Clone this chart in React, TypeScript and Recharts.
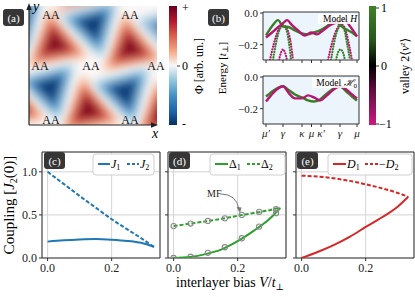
import React from 'react';
import { LineChart, Line, XAxis, YAxis, CartesianGrid, ReferenceArea, ScatterChart, Scatter } from 'recharts';

const FONT = '"Liberation Serif", "DejaVu Serif", serif';

// ---------- (a) moiré potential: extrema of the field ----------
const blobX = [0.203, 0.789, 0.461, -0.125, 1.047, 0.398, 0.5, 0.164, 0.75, -0.086, 1.086];
const blobY = [0.681, 0.647, 0.126, 0.16, 0.092, 1.09, 0.84, 0.311, 0.277, 0.874, 0.807];
const blobSign = [1, 1, 1, 1, 1, 1, -1, -1, -1, -1, -1];
const blobAmp = [1, 1, 1, 1, 1, 0.45, 1, 1, 1, 1, 0.7];
const aaX = [0.172, 0.789, 0.086, 0.484, 0.992, 0.172, 0.789];
const aaY = [0.924, 0.924, 0.496, 0.496, 0.496, 0.042, 0.042];

// ---------- (b) band structure ----------
const kTicks = [0, 17, 36, 45.5, 55, 74, 91];
const kLabels = ['μ′', 'γ', 'κ', 'μ', 'κ′', 'γ', 'μ'];
const eTicks = [0, -0.2];
const eLabels = ['0.0', '−0.2'];

const topGreenK = [0, 6, 12, 17, 23, 29, 36, 42, 48, 54, 61, 69, 74, 80, 86, 91];
const topGreenE = [-0.142, -0.084, -0.045, -0.084, -0.09, -0.11, -0.129, -0.135, -0.123, -0.11, -0.084, -0.045, -0.077, -0.103, -0.123, -0.148];
const topMagK = [0, 6, 12, 17, 21, 26, 32, 39, 45, 51, 57, 64, 71, 78, 84, 91];
const topMagE = [-0.155, -0.123, -0.09, -0.065, -0.045, -0.077, -0.11, -0.142, -0.123, -0.135, -0.11, -0.077, -0.058, -0.039, -0.084, -0.148];
const dotMag1K = [4, 8, 13, 17, 21, 25, 27];
const dotMag1E = [-0.297, -0.19, -0.1, -0.077, -0.1, -0.2, -0.297];
const dotGrn1K = [7, 10, 14, 17, 20, 23, 25];
const dotGrn1E = [-0.297, -0.19, -0.1, -0.084, -0.1, -0.19, -0.297];
const dotSmall1K = [13, 15, 17, 19, 21];
const dotSmall1E = [-0.297, -0.25, -0.23, -0.25, -0.297];
const dotMag2K = [62, 66, 71, 75, 79, 83, 86];
const dotMag2E = [-0.297, -0.19, -0.1, -0.07, -0.1, -0.2, -0.297];
const dotGrn2K = [65, 68, 72, 75, 78, 81, 84];
const dotGrn2E = [-0.297, -0.19, -0.1, -0.08, -0.1, -0.19, -0.297];
const dotSmall2K = [70, 72, 74.5, 77, 79];
const dotSmall2E = [-0.297, -0.25, -0.23, -0.25, -0.297];

const botK = [0, 5, 11, 17, 23, 29, 36, 42, 48, 54, 61, 68, 74, 80, 86, 91];
const botGreenE = [-0.123, -0.097, -0.071, -0.058, -0.084, -0.11, -0.129, -0.148, -0.155, -0.142, -0.103, -0.071, -0.058, -0.09, -0.123, -0.148];
const botMagE = [-0.155, -0.116, -0.077, -0.058, -0.103, -0.135, -0.135, -0.116, -0.129, -0.148, -0.116, -0.077, -0.058, -0.077, -0.11, -0.135];

// ---------- (c)(d)(e) couplings vs interlayer bias ----------
const biasTicks = [0, 0.2];
const couplingTicks = [0, 0.5, 1.0];
const bias = [0, 0.05, 0.1, 0.15, 0.2, 0.25, 0.3, 0.333];
const J1 = [0.19, 0.205, 0.215, 0.22, 0.213, 0.198, 0.168, 0.13];
const J2 = [1.0, 0.86, 0.72, 0.585, 0.45, 0.33, 0.21, 0.125];
const Delta1 = [0, 0.012, 0.045, 0.1, 0.195, 0.315, 0.455, 0.58];
const Delta2 = [0.37, 0.398, 0.425, 0.455, 0.49, 0.522, 0.555, 0.585];
const mfBias = [0, 0.053, 0.107, 0.16, 0.213, 0.267, 0.32];
const mfDelta1 = [0, 0.015, 0.06, 0.125, 0.229, 0.364, 0.52];
const mfDelta2 = [0.37, 0.4, 0.43, 0.46, 0.5, 0.535, 0.566];
const D1 = [0, 0.07, 0.15, 0.245, 0.36, 0.47, 0.595, 0.71];
const minusD2 = [0.955, 0.945, 0.925, 0.895, 0.855, 0.81, 0.755, 0.71];

const GREEN = '#3a7d24';
const MAGENTA = '#b5166f';
const BLUE = '#1f77b4';
const LGREEN = '#2ca02c';
const RED = '#d62728';

const RED_LAYERS: [number, string][] = [[1.0, '#f9cbb3'], [0.84, '#f4a582'], [0.68, '#e07a60'], [0.52, '#c84640'], [0.36, '#a8172c'], [0.2, '#820b22']];
const BLUE_LAYERS: [number, string][] = [[1.0, '#cfe3ef'], [0.84, '#92c5de'], [0.68, '#5fa3cf'], [0.52, '#3079b7'], [0.36, '#14508e'], [0.2, '#083a72']];

const blobs = blobX.map((x, i) => ({ x, y: blobY[i], sign: blobSign[i], amp: blobAmp[i] }));
const rows = (ks: number[], es: number[]) => ks.map((k, i) => ({ k, e: es[i] }));
const biasRows = bias.map((v, i) => ({ v, J1: J1[i], J2: J2[i], d1: Delta1[i], d2: Delta2[i], D1: D1[i], mD2: minusD2[i] }));
const mfRows = mfBias.map((v, i) => ({ v, m1: mfDelta1[i], m2: mfDelta2[i] }));

function renderBlob(props: any) {
  const { cx, cy, payload } = props;
  const s = payload.sign;
  const layers = s > 0 ? RED_LAYERS : BLUE_LAYERS;
  const rot = s > 0 ? -100 : 75;
  const R = 31;
  return (
    <g filter="url(#blobBlur)" opacity={payload.amp}>
      {layers.map(([f, c], i) => {
        const pts = [0, 1, 2]
          .map((j) => {
            const a = ((rot + 120 * j) * Math.PI) / 180;
            return `${cx + R * f * Math.cos(a)},${cy + R * f * Math.sin(a)}`;
          })
          .join(' ');
        return <polygon key={i} points={pts} fill={c} stroke={c} strokeWidth={7} strokeLinejoin="round" />;
      })}
    </g>
  );
}

const tickStyle = { fontFamily: FONT, fontSize: 11, fill: '#222' };
const bandX: [number, number] = [-3, 93];
const bandY: [number, number] = [-0.297, 0.0065];

function BandChart({ top, height, showLabels, children }: any) {
  return (
    <div style={{ position: 'absolute', left: 229, top: top - 6 }}>
      <LineChart width={131} height={height + 6} margin={{ top: 6, right: 1, left: 0, bottom: 0 }}>
        <CartesianGrid fill="#edf5fc" horizontal={false} vertical={false} />
        <XAxis
          dataKey="k"
          type="number"
          domain={bandX}
          allowDataOverflow
          ticks={kTicks}
          interval={0}
          axisLine={false}
          tickSize={3}
          tickLine={{ stroke: '#333' }}
          height={showLabels ? 20 : 5}
          tickFormatter={(v: number) => (showLabels ? kLabels[kTicks.indexOf(v)] : '')}
          tick={{ ...tickStyle, fontStyle: 'italic', fontSize: 11 }}
        />
        <YAxis
          type="number"
          domain={bandY}
          allowDataOverflow
          ticks={eTicks}
          interval={0}
          width={34}
          axisLine={false}
          tickSize={3}
          tickLine={{ stroke: '#333' }}
          tickFormatter={(v: number) => eLabels[eTicks.indexOf(v)]}
          tick={{ ...tickStyle, fontSize: 11 }}
        />
        {children}
        <ReferenceArea x1={bandX[0]} x2={bandX[1]} y1={bandY[0]} y2={bandY[1]} fill="none" stroke="#333" strokeWidth={1} ifOverflow="visible" />
      </LineChart>
    </div>
  );
}

const biasDomain: [number, number] = [-0.0175, 0.351];
const coupDomain: [number, number] = [0, 1.23];

function BiasChart({ left, showY, children }: any) {
  return (
    <div style={{ position: 'absolute', left: left - 30, top: 146 }}>
      <LineChart width={30 + 118 + 1} height={6 + 106 + 20} data={biasRows} margin={{ top: 6, right: 1, left: 0, bottom: 0 }}>
        <CartesianGrid stroke="#d4d4d4" strokeWidth={1} />
        <XAxis
          dataKey="v"
          type="number"
          domain={biasDomain}
          allowDataOverflow
          ticks={biasTicks}
          interval={0}
          axisLine={false}
          tickSize={3}
          tickLine={{ stroke: '#333' }}
          height={20}
          tickFormatter={(v: number) => v.toFixed(1)}
          tick={{ ...tickStyle, fontSize: 12 }}
        />
        <YAxis
          type="number"
          domain={coupDomain}
          allowDataOverflow
          ticks={couplingTicks}
          interval={0}
          width={30}
          axisLine={false}
          tickSize={3}
          tickLine={{ stroke: '#333' }}
          tickFormatter={(v: number) => (showY ? v.toFixed(1) : '')}
          tick={{ ...tickStyle, fontSize: 12 }}
        />
        {children}
        <ReferenceArea x1={biasDomain[0]} x2={biasDomain[1]} y1={coupDomain[0]} y2={coupDomain[1]} fill="none" stroke="#333" strokeWidth={1} ifOverflow="visible" />
      </LineChart>
    </div>
  );
}

const dotted = { strokeDasharray: '0.1 2.6', strokeLinecap: 'round' as const, strokeWidth: 2.2 };

function PanelTag({ x, y, text }: { x: number; y: number; text: string }) {
  return (
    <g>
      <rect x={x} y={y} width={21} height={17} rx={3} fill="#363636" />
      <text x={x + 10.5} y={y + 12.5} fontSize={11} fill="#fff" textAnchor="middle" fontFamily={FONT}>{text}</text>
    </g>
  );
}

export default function App() {
  return (
    <div style={{ position: 'absolute', left: 0, top: 0, width: 415, height: 297, background: '#fff', overflow: 'hidden', fontFamily: FONT }}>
      <svg width={0} height={0} style={{ position: 'absolute' }}>
        <defs>
          <filter id="blobBlur" x="-60%" y="-60%" width="220%" height="220%">
            <feGaussianBlur stdDeviation={5} />
          </filter>
          <linearGradient id="rdbu" x1="0" y1="0" x2="0" y2="1">
            <stop offset="0%" stopColor="#67001f" />
            <stop offset="12.5%" stopColor="#b2182b" />
            <stop offset="25%" stopColor="#d6604d" />
            <stop offset="37.5%" stopColor="#f4a582" />
            <stop offset="50%" stopColor="#f7f7f7" />
            <stop offset="62.5%" stopColor="#92c5de" />
            <stop offset="75%" stopColor="#4393c3" />
            <stop offset="87.5%" stopColor="#2166ac" />
            <stop offset="100%" stopColor="#053061" />
          </linearGradient>
          <linearGradient id="valley" x1="0" y1="0" x2="0" y2="1">
            <stop offset="0%" stopColor="#3d8226" />
            <stop offset="30%" stopColor="#25531a" />
            <stop offset="50%" stopColor="#000000" />
            <stop offset="70%" stopColor="#5e0c3c" />
            <stop offset="100%" stopColor="#cc1a82" />
          </linearGradient>
        </defs>
      </svg>

      {/* (a) heat map */}
      <div style={{ position: 'absolute', left: 29, top: 6, width: 128, height: 119, overflow: 'hidden', background: '#fbf8f7' }}>
        <ScatterChart width={128} height={119} margin={{ top: 0, right: 0, bottom: 0, left: 0 }}>
          <XAxis type="number" dataKey="x" domain={[0, 1]} hide allowDataOverflow />
          <YAxis type="number" dataKey="y" domain={[0, 1]} hide allowDataOverflow />
          <Scatter data={blobs} shape={renderBlob} isAnimationActive={false} />
        </ScatterChart>
      </div>

      {/* (b) band structures */}
      <BandChart top={12} height={53} showLabels={false}>
        <Line data={rows(dotMag1K, dotMag1E)} dataKey="e" type="monotone" stroke={MAGENTA} dot={false} isAnimationActive={false} {...dotted} />
        <Line data={rows(dotGrn1K, dotGrn1E)} dataKey="e" type="monotone" stroke={GREEN} dot={false} isAnimationActive={false} {...dotted} />
        <Line data={rows(dotSmall1K, dotSmall1E)} dataKey="e" type="monotone" stroke={MAGENTA} dot={false} isAnimationActive={false} {...dotted} />
        <Line data={rows(dotMag2K, dotMag2E)} dataKey="e" type="monotone" stroke={MAGENTA} dot={false} isAnimationActive={false} {...dotted} />
        <Line data={rows(dotGrn2K, dotGrn2E)} dataKey="e" type="monotone" stroke={GREEN} dot={false} isAnimationActive={false} {...dotted} />
        <Line data={rows(dotSmall2K, dotSmall2E)} dataKey="e" type="monotone" stroke={GREEN} dot={false} isAnimationActive={false} {...dotted} />
        <Line data={rows(topGreenK, topGreenE)} dataKey="e" type="monotone" stroke={GREEN} strokeWidth={2.4} dot={false} isAnimationActive={false} />
        <Line data={rows(topMagK, topMagE)} dataKey="e" type="monotone" stroke={MAGENTA} strokeWidth={2.4} dot={false} isAnimationActive={false} />
      </BandChart>
      <BandChart top={76} height={68} showLabels={true}>
        <Line data={rows(botK, botGreenE)} dataKey="e" type="monotone" stroke={GREEN} strokeWidth={2.4} dot={false} isAnimationActive={false} />
        <Line data={rows(botK, botMagE)} dataKey="e" type="monotone" stroke={MAGENTA} strokeWidth={2.4} dot={false} isAnimationActive={false} />
      </BandChart>

      {/* (c) */}
      <BiasChart left={42} showY={true}>
        <Line dataKey="J2" type="monotone" stroke={BLUE} strokeWidth={2} strokeDasharray="4 2" dot={false} isAnimationActive={false} />
        <Line dataKey="J1" type="monotone" stroke={BLUE} strokeWidth={2} dot={false} isAnimationActive={false} />
      </BiasChart>
      {/* (d) */}
      <BiasChart left={168} showY={false}>
        <Line dataKey="d2" type="monotone" stroke={LGREEN} strokeWidth={2} strokeDasharray="4 2" dot={false} isAnimationActive={false} />
        <Line dataKey="d1" type="monotone" stroke={LGREEN} strokeWidth={2} dot={false} isAnimationActive={false} />
        <Line data={mfRows} dataKey="m1" stroke="none" dot={{ r: 2.6, stroke: '#8a8a8a', strokeWidth: 1.1, fill: 'none' }} isAnimationActive={false} />
        <Line data={mfRows} dataKey="m2" stroke="none" dot={{ r: 2.6, stroke: '#8a8a8a', strokeWidth: 1.1, fill: 'none' }} isAnimationActive={false} />
      </BiasChart>
      {/* (e) */}
      <BiasChart left={296} showY={false}>
        <Line dataKey="mD2" type="monotone" stroke={RED} strokeWidth={2} strokeDasharray="4 2" dot={false} isAnimationActive={false} />
        <Line dataKey="D1" type="monotone" stroke={RED} strokeWidth={2} dot={false} isAnimationActive={false} />
      </BiasChart>

      {/* annotations */}
      <svg width={415} height={297} style={{ position: 'absolute', left: 0, top: 0, pointerEvents: 'none' }} fontFamily={FONT}>
        {/* (a) axes arrows */}
        <line x1={29} y1={125} x2={153} y2={125} stroke="#222" strokeWidth={1.2} />
        <polygon points="158,125 151,122.3 151,127.7" fill="#222" />
        <line x1={29} y1={125} x2={29} y2={9} stroke="#222" strokeWidth={1.2} />
        <polygon points="29,3 26.3,10 31.7,10" fill="#222" />
        <text x={152} y={138} fontSize={14} fontStyle="italic">x</text>
        <text x={33} y={11} fontSize={14} fontStyle="italic">y</text>
        {aaX.map((ax, i) => (
          <text key={i} x={29 + ax * 128} y={125 - aaY[i] * 119} fontSize={12} textAnchor="middle" dominantBaseline="central" fill="#111">AA</text>
        ))}
        <PanelTag x={3} y={9} text="(a)" />
        {/* (a) colorbar */}
        <rect x={169} y={6} width={8} height={119} fill="url(#rdbu)" />
        <line x1={177} y1={66} x2={180} y2={66} stroke="#333" />
        <text x={182} y={12} fontSize={12}>+</text>
        <text x={182} y={70} fontSize={12}>0</text>
        <text x={182} y={128} fontSize={12}>-</text>
        <text transform="translate(203,66) rotate(-90)" fontSize={12} textAnchor="middle">Φ [arb. un.]</text>

        {/* (b) */}
        <PanelTag x={208} y={9} text="(b)" />
        <text transform="translate(226,68) rotate(-90)" fontSize={11} textAnchor="middle">Energy [<tspan fontStyle="italic">t</tspan><tspan fontSize={8} dy={2}>⊥</tspan><tspan dy={-2}>]</tspan></text>
        <rect x={318} y={14} width={40} height={10} fill="#fff" opacity={0.85} />
        <text x={357} y={22} fontSize={9.5} textAnchor="end">Model <tspan fontStyle="italic">H</tspan></text>
        <rect x={312} y={78} width={46} height={10} fill="#fff" opacity={0.85} />
        <text x={357} y={86} fontSize={9.5} textAnchor="end">Model <tspan fontStyle="italic">ℋ</tspan><tspan fontSize={7} dy={2}>0</tspan></text>
        <rect x={369} y={6} width={7} height={119} fill="url(#valley)" />
        <line x1={376} y1={8} x2={379} y2={8} stroke="#333" />
        <line x1={376} y1={66} x2={379} y2={66} stroke="#333" />
        <line x1={376} y1={124} x2={379} y2={124} stroke="#333" />
        <text x={381} y={12} fontSize={12}>1</text>
        <text x={381} y={70} fontSize={12}>0</text>
        <text x={379} y={128} fontSize={12}>−1</text>
        <text transform="translate(409,66) rotate(-90)" fontSize={12} textAnchor="middle">valley 2⟨<tspan fontStyle="italic">v</tspan><tspan fontSize={8} dy={-4} fontStyle="italic">z</tspan><tspan dy={4}>⟩</tspan></text>

        {/* bottom row */}
        <PanelTag x={44} y={152} text="(c)" />
        <PanelTag x={169} y={152} text="(d)" />
        <PanelTag x={297} y={152} text="(e)" />

        <rect x={93} y={154} width={61} height={21} rx={3} fill="#fff" stroke="#cfcfcf" />
        <line x1={98} y1={164} x2={110} y2={164} stroke={BLUE} strokeWidth={2} />
        <text x={111} y={168} fontSize={12}><tspan fontStyle="italic">J</tspan><tspan fontSize={8} dy={2}>1</tspan></text>
        <line x1={127} y1={164} x2={139} y2={164} stroke={BLUE} strokeWidth={2} strokeDasharray="3 2" />
        <text x={140} y={168} fontSize={12}><tspan fontStyle="italic">J</tspan><tspan fontSize={8} dy={2}>2</tspan></text>

        <rect x={210} y={154} width={75} height={21} rx={3} fill="#fff" stroke="#cfcfcf" />
        <line x1={215} y1={164} x2={228} y2={164} stroke={LGREEN} strokeWidth={2} />
        <text x={229} y={168} fontSize={12}>Δ<tspan fontSize={8} dy={2}>1</tspan></text>
        <line x1={247} y1={164} x2={260} y2={164} stroke={LGREEN} strokeWidth={2} strokeDasharray="3 2" />
        <text x={261} y={168} fontSize={12}>Δ<tspan fontSize={8} dy={2}>2</tspan></text>

        <rect x={328} y={154} width={84} height={21} rx={3} fill="#fff" stroke="#cfcfcf" />
        <line x1={333} y1={164} x2={346} y2={164} stroke={RED} strokeWidth={2} />
        <text x={347} y={168} fontSize={12}><tspan fontStyle="italic">D</tspan><tspan fontSize={8} dy={2}>1</tspan></text>
        <line x1={365} y1={164} x2={378} y2={164} stroke={RED} strokeWidth={2} strokeDasharray="3 2" />
        <text x={379} y={168} fontSize={12}>−<tspan fontStyle="italic">D</tspan><tspan fontSize={8} dy={2}>2</tspan></text>

        <text x={207} y={197} fontSize={10} fill="#222">MF</text>
        <path d="M 221 194 Q 236 194 239 209" fill="none" stroke="#777" strokeWidth={1} />
        <polygon points="240,213 236.5,207 241.5,207.5" fill="#777" />

        <text transform="translate(14,205) rotate(-90)" fontSize={15} textAnchor="middle">Coupling [<tspan fontStyle="italic">J</tspan><tspan fontSize={10} dy={3}>2</tspan><tspan dy={-3}>(0)]</tspan></text>
        <text x={230} y={287} fontSize={14} textAnchor="middle">interlayer bias <tspan fontStyle="italic">V</tspan>/<tspan fontStyle="italic">t</tspan><tspan fontSize={9} dy={3}>⊥</tspan></text>
      </svg>
    </div>
  );
}
